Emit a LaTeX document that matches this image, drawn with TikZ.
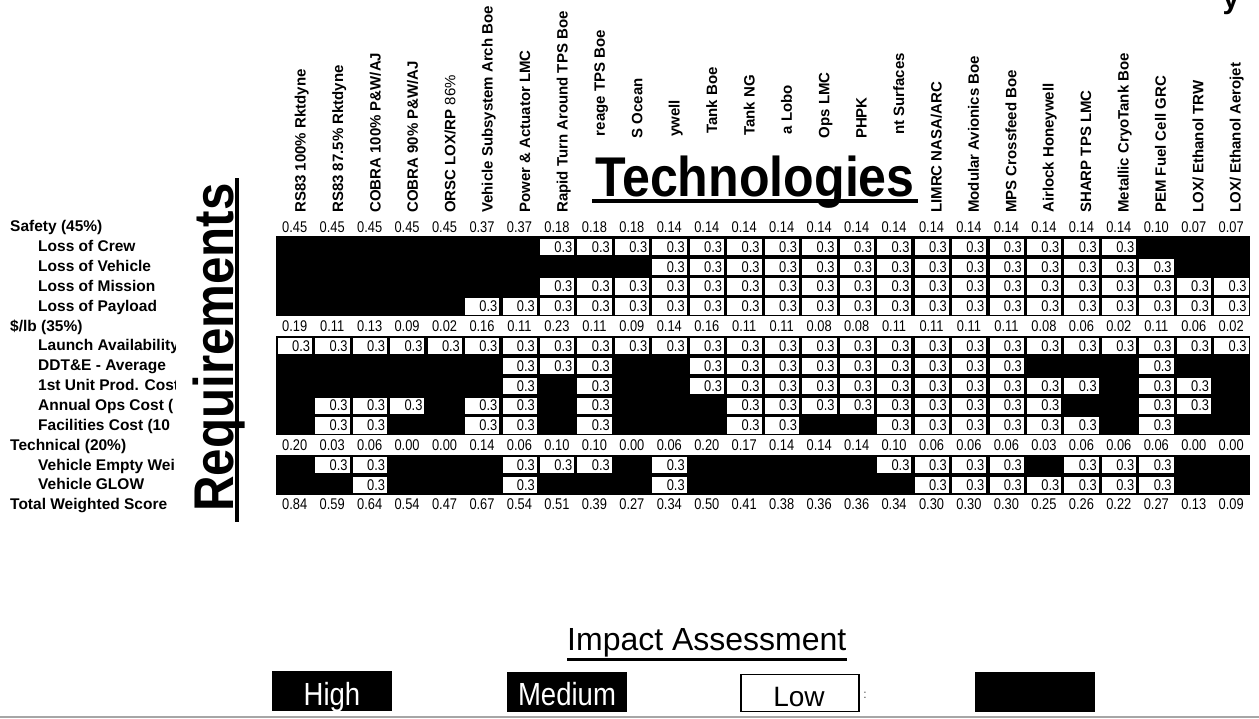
\documentclass[tikz,border=0pt]{standalone}
\usepackage{fontspec}
\setmainfont{Liberation Sans}
\newfontfamily\narrowfont[FakeStretch=0.83]{Liberation Sans}
\newfontfamily\legendfont[FakeStretch=0.86]{Liberation Sans}
\begin{document}
\begin{tikzpicture}[x=1pt,y=-1pt,
  rowlbl/.style={anchor=base west, inner sep=0pt, font=\fontsize{15.5}{16}\selectfont\bfseries},
  collbl/.style={rotate=90, anchor=base west, inner sep=0pt, font=\fontsize{15}{16}\selectfont\bfseries},
  fraglbl/.style={rotate=90, anchor=base east, inner sep=0pt, font=\fontsize{15}{16}\selectfont\bfseries},
  wnum/.style={anchor=base, inner sep=0pt, font=\fontsize{15.5}{16}\narrowfont},
  cellnum/.style={anchor=base east, inner sep=0pt, font=\fontsize{15.5}{16}\narrowfont},
  cellbox/.style={fill=white, draw=black, line width=0.8pt},
  legbox/.style={anchor=north west, inner sep=0pt, minimum width=120pt, minimum height=40pt},
  legtxt/.style={anchor=base, inner sep=0pt, font=\fontsize{32}{34}\legendfont}
]
\useasboundingbox (0,0) rectangle (1259,718);
\fill[white] (0,0) rectangle (1259,718);

% cut-off title fragment
\node[anchor=base, inner sep=0pt, font=\fontsize{30}{30}\selectfont\bfseries] (ttl) at (1231,8) {y};

% column headers
\foreach \t [count=\i] in {{RS83 100\% Rktdyne},{RS83 87.5\% Rktdyne},{COBRA 100\% P\&W/AJ},{COBRA 90\% P\&W/AJ},{ORSC LOX/RP \mdseries 86\%},{Vehicle Subsystem Arch Boe},{Power \& Actuator LMC},{Rapid Turn Around TPS Boe}}
  \node[collbl] (h\i) at ({305.7+(\i-1)*37.4},213) {\t};
\foreach \t/\top [count=\j] in {{reage TPS Boe}/30,{S Ocean}/78,{ywell}/100,{Tank Boe}/67,{Tank NG}/75,{a Lobo}/85,{Ops LMC}/72,{PHPK}/97,{nt Surfaces}/53}
  \node[fraglbl] (h\the\numexpr\j+8\relax) at ({305.7+(\j+7)*37.4},\top) {\t};
\foreach \t [count=\j] in {{LIMRC NASA/ARC},{Modular Avionics Boe},{MPS Crossfeed Boe},{Airlock Honeywell},{SHARP TPS LMC},{Metallic CryoTank Boe},{PEM Fuel Cell GRC},{LOX/ Ethanol TRW},{LOX/ Ethanol Aerojet}}
  \node[collbl] (h\the\numexpr\j+17\relax) at ({305.7+(\j+16)*37.4},213) {\t};

% Technologies title
\node[anchor=base, inner sep=0pt, font=\fontsize{56}{60}\selectfont\bfseries] (tech) at (755,196.7) {\scalebox{0.895}[1]{Technologies}};
\fill (592,198.5) rectangle (918,203);

% Requirements title
\node[rotate=90, anchor=base west, inner sep=0pt, font=\fontsize{56}{60}\selectfont\bfseries] (req) at (233,512) {\scalebox{0.88}[1]{Requirements}};
\fill (234.5,178) rectangle (238.5,522);

% row labels
\begin{scope}
\clip (0,205) rectangle (175,525);
\node[rowlbl] (r0) at (10,231.8) {Safety (45\%)};
\node[rowlbl] (r1) at (38,251.65) {Loss of Crew};
\node[rowlbl] (r2) at (38,271.5) {Loss of Vehicle};
\node[rowlbl] (r3) at (38,291.35) {Loss of Mission};
\node[rowlbl] (r4) at (38,311.2) {Loss of Payload};
\node[rowlbl] (r5) at (10,331.05) {\$/lb (35\%)};
\node[rowlbl] (r6) at (38,350.9) {Launch Availability};
\node[rowlbl] (r7) at (38,370.75) {DDT\&E - Average};
\node[rowlbl] (r8) at (38,390.6) {1st Unit Prod. Cost};
\node[rowlbl] (r9) at (38,410.45) {Annual Ops Cost (};
\node[rowlbl] (r10) at (38,430.3) {Facilities Cost (10};
\node[rowlbl] (r11) at (10,450.15) {Technical (20\%)};
\node[rowlbl] (r12) at (38,470) {Vehicle Empty Wei};
\node[rowlbl] (r13) at (38,489.85) {Vehicle GLOW};
\node[rowlbl] (r14) at (10,509.7) {Total Weighted Score};
\end{scope}

% black blocks
\fill (276,236.2) rectangle (1250,315.8);
\fill (276,335.6) rectangle (1250,435.2);
\fill (276,454.8) rectangle (1250,494.6);

% white cells
\foreach \yy/\rn/\cl in {246.15/1/{8,...,23}, 266/2/{11,...,24}, 285.85/3/{8,...,26}, 305.7/4/{6,...,26},
  345.4/6/{1,...,26}, 365.25/7/{7,8,9,12,13,...,20,24}, 385.1/8/{7,9,12,13,...,22,24,25},
  404.95/9/{2,3,4,6,7,9,13,14,...,21,24,25}, 424.8/10/{2,3,6,7,9,13,14,17,18,...,22,24},
  464.5/12/{2,3,7,8,9,11,17,18,19,20,22,23,24}, 484.35/13/{3,7,11,18,19,...,24}}{
  \foreach \c in \cl {
    \draw[cellbox] ({276+(\c-1)*37.46+1.2},\yy-8) rectangle ({276+\c*37.46-1},\yy+9.3);
    \node[cellnum] (v\rn-\c) at ({276+\c*37.46-3.2},\yy+6) {0.3};
  }
}

% weight rows
\foreach \v [count=\c] in {0.45,0.45,0.45,0.45,0.45,0.37,0.37,0.18,0.18,0.18,0.14,0.14,0.14,0.14,0.14,0.14,0.14,0.14,0.14,0.14,0.14,0.14,0.14,0.10,0.07,0.07}
  \node[wnum] (ws\c) at ({276+(\c-0.5)*37.46},232.5) {\v};
\foreach \v [count=\c] in {0.19,0.11,0.13,0.09,0.02,0.16,0.11,0.23,0.11,0.09,0.14,0.16,0.11,0.11,0.08,0.08,0.11,0.11,0.11,0.11,0.08,0.06,0.02,0.11,0.06,0.02}
  \node[wnum] (wc\c) at ({276+(\c-0.5)*37.46},331.3) {\v};
\foreach \v [count=\c] in {0.20,0.03,0.06,0.00,0.00,0.14,0.06,0.10,0.10,0.00,0.06,0.20,0.17,0.14,0.14,0.14,0.10,0.06,0.06,0.06,0.03,0.06,0.06,0.06,0.00,0.00}
  \node[wnum] (wt\c) at ({276+(\c-0.5)*37.46},450.8) {\v};
\foreach \v [count=\c] in {0.84,0.59,0.64,0.54,0.47,0.67,0.54,0.51,0.39,0.27,0.34,0.50,0.41,0.38,0.36,0.36,0.34,0.30,0.30,0.30,0.25,0.26,0.22,0.27,0.13,0.09}
  \node[wnum] (wx\c) at ({276+(\c-0.5)*37.46},509.8) {\v};

% legend
\node[anchor=base west, inner sep=0pt, font=\fontsize{32}{34}\selectfont] (imp) at (567,650) {Impact Assessment};
\fill (567,658) rectangle (847,660.5);
\node[legbox, fill=black] (high) at (272,671) {};
\node[legtxt, text=white] (hight) at (332,705) {High};
\node[legbox, fill=black] (med) at (507,672) {};
\node[legtxt, text=white] (medt) at (567,705) {Medium};
\node[legbox, fill=white, draw=black, line width=1.5pt, minimum width=118pt, minimum height=37pt] (low) at (740,673.5) {};
\node[anchor=base, inner sep=0pt, font=\fontsize{28}{30}\selectfont] (lowt) at (799,706) {Low};
\node[inner sep=0pt, font=\fontsize{12}{12}\selectfont, text=black!70] (colon) at (865,695) {:};
\node[legbox, fill=black] (blank) at (975,672) {};
\draw[black!35, line width=1.5pt] (0,716.8) -- (1259,716.8);
\end{tikzpicture}
\end{document}
